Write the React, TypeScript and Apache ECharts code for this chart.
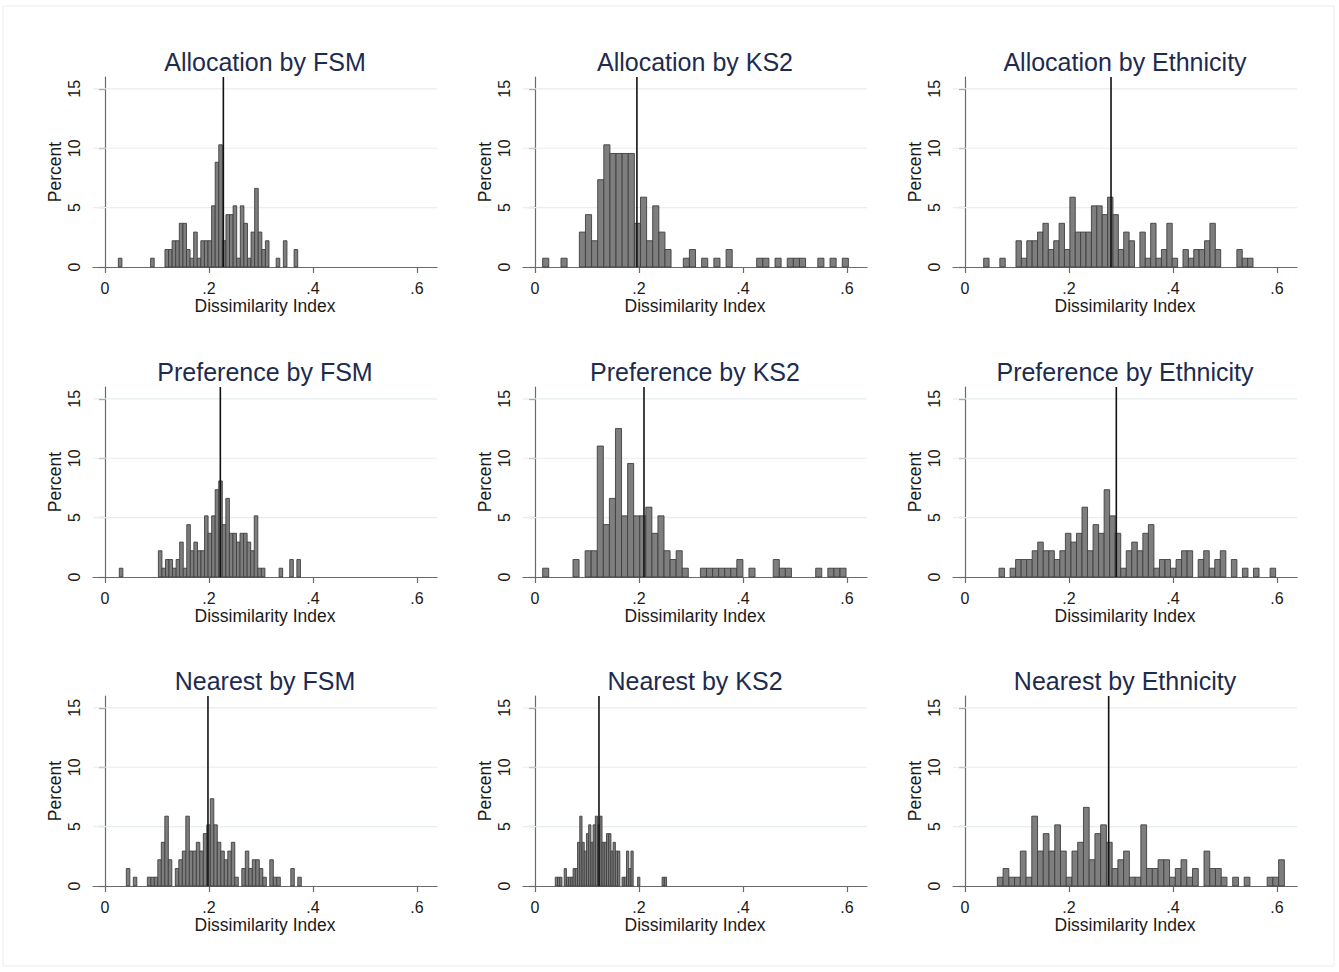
import React, { useEffect, useRef } from "react";
import * as echarts from "echarts";

// ---------------- data ----------------
const X_TICKS = [0, 0.2, 0.4, 0.6];
const X_TICK_LABELS = ["0", ".2", ".4", ".6"];
const Y_TICKS = [0, 5, 10, 15];
const Y_TICK_LABELS = ["0", "5", "10", "15"];
const X_TITLE = "Dissimilarity Index";
const Y_TITLE = "Percent";

const TITLES = [
  "Allocation by FSM",
  "Allocation by KS2",
  "Allocation by Ethnicity",
  "Preference by FSM",
  "Preference by KS2",
  "Preference by Ethnicity",
  "Nearest by FSM",
  "Nearest by KS2",
  "Nearest by Ethnicity",
];

// first bin's lower edge and bin width (dissimilarity index units)
const BIN_START = [0.0256, 0.0147, 0.0359, 0.0275, 0.0147, 0.0654, 0.041, 0.039, 0.0622];
const BIN_WIDTH = [0.0069, 0.01176, 0.01036, 0.00683, 0.01167, 0.01064, 0.00673, 0.00428, 0.01104];
// vertical reference line (mean) per panel
const MEAN_LINE = [0.2276, 0.196, 0.2808, 0.2218, 0.2096, 0.291, 0.198, 0.123, 0.2763];

// percent of schools in each bin
const ALLOC_FSM = [
  0.74, 0, 0, 0, 0, 0, 0, 0, 0, 0.74,
  0, 0, 0, 1.47, 1.47, 2.21, 2.21, 3.68, 3.68, 1.47,
  0.74, 2.94, 0.74, 2.21, 2.21, 2.21, 5.15, 8.82, 10.29, 2.21,
  4.41, 4.41, 5.15, 0.74, 5.15, 3.68, 0.74, 2.94, 6.62, 2.94,
  1.47, 2.21, 0, 0, 0.74, 0, 2.21, 0, 0, 1.47,
];
const ALLOC_KS2 = [
  0.74, 0, 0, 0.74, 0, 0, 2.94, 4.41, 2.21, 7.35,
  10.29, 9.56, 9.56, 9.56, 9.56, 3.68, 5.88, 2.21, 5.15, 2.94,
  1.47, 0, 0, 0.74, 1.47, 0, 0.74, 0, 0.74, 0,
  1.47, 0, 0, 0, 0, 0.74, 0.74, 0, 0.74, 0,
  0.74, 0.74, 0.74, 0, 0, 0.74, 0, 0.74, 0, 0.74,
];
const ALLOC_ETH = [
  0.74, 0, 0, 0.74, 0, 0, 2.21, 0.74, 2.21, 2.21,
  2.94, 3.68, 1.47, 2.21, 3.68, 1.47, 5.88, 2.94, 2.94, 2.94,
  5.15, 5.15, 4.41, 5.88, 4.41, 1.47, 2.94, 2.21, 0, 2.94,
  0.74, 3.68, 0.74, 1.47, 3.68, 0.74, 0, 1.47, 0.74, 1.47,
  1.47, 2.21, 3.68, 1.47, 0, 0, 0, 1.47, 0.74, 0.74,
];
const PREF_FSM = [
  0.74, 0, 0, 0, 0, 0, 0, 0, 0, 0,
  0, 2.21, 0.74, 1.47, 1.47, 0.74, 1.47, 2.94, 0.74, 4.41,
  2.21, 2.94, 2.21, 2.21, 5.15, 3.68, 5.15, 7.35, 8.09, 4.41,
  6.62, 3.68, 3.68, 2.94, 3.68, 3.68, 2.94, 2.21, 5.15, 0.74,
  0.74, 0, 0, 0, 0, 0.74, 0, 0, 1.47, 0,
  1.47,
];
const PREF_KS2 = [
  0.74, 0, 0, 0, 0, 1.47, 0, 2.21, 2.21, 11.03,
  4.41, 6.62, 12.5, 5.15, 9.56, 5.15, 5.15, 5.88, 3.68, 5.15,
  2.21, 1.47, 2.21, 0.74, 0, 0, 0.74, 0.74, 0.74, 0.74,
  0.74, 0.74, 1.47, 0, 0.74, 0, 0, 0, 1.47, 0.74,
  0.74, 0, 0, 0, 0, 0.74, 0, 0.74, 0.74, 0.74,
];
const PREF_ETH = [
  0.74, 0, 0.74, 1.47, 1.47, 1.47, 2.21, 2.94, 2.21, 2.21,
  1.47, 2.21, 3.68, 2.94, 3.68, 5.88, 2.21, 4.41, 3.68, 7.35,
  5.15, 3.68, 0.74, 2.21, 2.94, 2.21, 3.68, 4.41, 0.74, 1.47,
  1.47, 0.74, 1.47, 2.21, 2.21, 0, 1.47, 2.21, 0.74, 1.47,
  2.21, 0, 1.47, 0, 0.74, 0, 0.74, 0, 0, 0.74,
];
const NEAR_FSM = [
  1.47, 0, 0.74, 0, 0, 0, 0.74, 0.74, 0.74, 2.21,
  3.68, 5.88, 2.21, 0, 1.47, 2.21, 2.94, 5.88, 2.94, 2.94,
  3.68, 2.94, 4.41, 5.15, 7.35, 5.15, 3.68, 2.94, 2.21, 2.94,
  3.68, 0.74, 0, 1.47, 2.94, 1.47, 2.21, 2.21, 1.47, 0.74,
  0, 2.21, 0.74, 0.74, 0, 0, 0, 1.47, 0, 0.74,
];
const NEAR_KS2 = [
  0.74, 0.74, 0.74, 0, 1.47, 0.74, 0.74, 0.74, 1.47, 1.47,
  3.68, 5.88, 3.68, 2.94, 4.41, 5.15, 3.68, 5.15, 5.88, 5.15,
  5.88, 3.68, 3.68, 4.41, 4.41, 2.94, 3.68, 2.94, 2.94, 0,
  0.74, 0.74, 2.94, 1.47, 2.94, 0, 0, 0.74, 0, 0,
  0, 0, 0, 0, 0, 0, 0, 0, 0.74, 0.74,
];
const NEAR_ETH = [
  0.74, 1.47, 0.74, 0.74, 2.94, 0.74, 5.88, 2.94, 4.41, 2.94,
  5.15, 2.94, 0.74, 2.94, 3.68, 6.62, 2.21, 4.41, 5.15, 3.68,
  1.47, 2.21, 2.94, 0.74, 0.74, 5.15, 1.47, 1.47, 2.21, 2.21,
  0.74, 1.47, 2.21, 0.74, 1.47, 0, 2.94, 1.47, 1.47, 0.74,
  0, 0.74, 0, 0.74, 0, 0, 0, 0.74, 0.74, 2.21,
];

const HEIGHTS = [ALLOC_FSM, ALLOC_KS2, ALLOC_ETH, PREF_FSM, PREF_KS2, PREF_ETH, NEAR_FSM, NEAR_KS2, NEAR_ETH];

// ---------------- layout / style ----------------
const FONT = "'Liberation Sans', Arial, sans-serif";
const COL_LEFT = [93, 523, 953];
const ROW_TOP = [77, 387, 696];
const TITLE_Y = [62, 372, 681];
const GRID_W = 344;
const GRID_H = 190;
const X_MIN = -0.0231;
const X_MAX = 0.6385;
const Y_MAX = 16;
const AXIS_COLOR = "#6a6a6a";
const GRID_COLOR = "#e6eef0";
const BAR_FILL = "#7e7e7e";
const BAR_EDGE = "#404040";

function tickLabel(ticks: number[], labels: string[], v: number) {
  const i = ticks.findIndex((t) => Math.abs(t - v) < 1e-9);
  return i >= 0 ? labels[i] : "";
}

function buildOption() {
  const grid: any[] = [];
  const xAxis: any[] = [];
  const yAxis: any[] = [];
  const series: any[] = [];
  const graphic: any[] = [
    {
      type: "rect",
      silent: true,
      z: -10,
      shape: { x: 3, y: 6, width: 1331, height: 960 },
      style: { fill: "none", stroke: "#ececec", lineWidth: 1 },
    },
  ];

  for (let p = 0; p < 9; p++) {
    const c = p % 3;
    const r = Math.floor(p / 3);
    grid.push({ left: COL_LEFT[c], top: ROW_TOP[r], width: GRID_W, height: GRID_H, containLabel: false });

    xAxis.push({
      gridIndex: p,
      type: "value",
      min: X_MIN,
      max: X_MAX,
      name: X_TITLE,
      nameLocation: "middle",
      nameGap: 30,
      nameTextStyle: { fontFamily: FONT, fontSize: 17.5, color: "#1a1a1a" },
      axisLine: { show: true, onZero: false, lineStyle: { color: AXIS_COLOR, width: 1.2 } },
      axisTick: { show: true, customValues: X_TICKS, length: 6, lineStyle: { color: AXIS_COLOR, width: 1.2 } },
      axisLabel: {
        customValues: X_TICKS,
        margin: 13,
        fontFamily: FONT,
        fontSize: 16,
        color: "#1a1a1a",
        formatter: (v: number) => tickLabel(X_TICKS, X_TICK_LABELS, v),
      },
      splitLine: { show: false },
    });

    yAxis.push({
      gridIndex: p,
      type: "value",
      min: 0,
      max: Y_MAX,
      name: Y_TITLE,
      nameLocation: "middle",
      nameGap: 29,
      nameTextStyle: { fontFamily: FONT, fontSize: 17.5, color: "#1a1a1a" },
      axisLine: { show: true, lineStyle: { color: AXIS_COLOR, width: 1.2 } },
      axisTick: { show: true, customValues: Y_TICKS, length: 6, lineStyle: { color: AXIS_COLOR, width: 1.2 } },
      axisLabel: {
        customValues: Y_TICKS,
        rotate: 90,
        margin: 11,
        fontFamily: FONT,
        fontSize: 16,
        color: "#1a1a1a",
        formatter: (v: number) => tickLabel(Y_TICKS, Y_TICK_LABELS, v),
      },
      splitLine: { show: false },
    });

    // horizontal gridlines at the labelled ticks
    series.push({
      type: "custom",
      xAxisIndex: p,
      yAxisIndex: p,
      silent: true,
      z: 1,
      data: Y_TICKS.filter((v) => v > 0).map((v) => [0, v]),
      encode: { x: 0, y: 1 },
      renderItem: (params: any, api: any) => {
        const cs = params.coordSys;
        const y = api.coord([0, api.value(1)])[1];
        return {
          type: "line",
          shape: { x1: cs.x, y1: y, x2: cs.x + cs.width, y2: y },
          style: { stroke: GRID_COLOR, lineWidth: 1.2 },
        };
      },
    });

    // histogram bars
    const h = HEIGHTS[p];
    const bins = h
      .map((v, i) => [BIN_START[p] + i * BIN_WIDTH[p], BIN_START[p] + (i + 1) * BIN_WIDTH[p], v])
      .filter((d) => d[2] > 0);
    series.push({
      type: "custom",
      xAxisIndex: p,
      yAxisIndex: p,
      silent: true,
      z: 2,
      data: bins,
      encode: { x: [0, 1], y: 2 },
      renderItem: (params: any, api: any) => {
        const a = api.coord([api.value(0), 0]);
        const b = api.coord([api.value(1), api.value(2)]);
        return {
          type: "rect",
          shape: { x: a[0], y: b[1], width: b[0] - a[0], height: a[1] - b[1] },
          style: { fill: BAR_FILL, stroke: BAR_EDGE, lineWidth: 0.9 },
        };
      },
    });

    // vertical mean line
    series.push({
      type: "line",
      xAxisIndex: p,
      yAxisIndex: p,
      silent: true,
      z: 5,
      symbol: "none",
      data: [
        [MEAN_LINE[p], 0],
        [MEAN_LINE[p], Y_MAX],
      ],
      lineStyle: { color: "#111111", width: 1.6 },
    });

    graphic.push({
      type: "text",
      silent: true,
      x: COL_LEFT[c] + GRID_W / 2,
      y: TITLE_Y[r],
      style: {
        text: TITLES[p],
        fontFamily: FONT,
        fontSize: 25,
        fill: "#1d2b4f",
        align: "center",
        verticalAlign: "middle",
        textAlign: "center",
        textVerticalAlign: "middle",
      },
    });
  }

  return {
    animation: false,
    backgroundColor: "#ffffff",
    grid,
    xAxis,
    yAxis,
    series,
    graphic,
  };
}

export default function App() {
  const ref = useRef<HTMLDivElement>(null);
  useEffect(() => {
    if (!ref.current) return;
    const chart = echarts.init(ref.current, null, { renderer: "svg" });
    chart.setOption(buildOption() as any);
    return () => chart.dispose();
  }, []);
  return (
    <div
      ref={ref}
      style={{ position: "absolute", left: 0, top: 0, width: 1339, height: 972, background: "#ffffff" }}
    />
  );
}
